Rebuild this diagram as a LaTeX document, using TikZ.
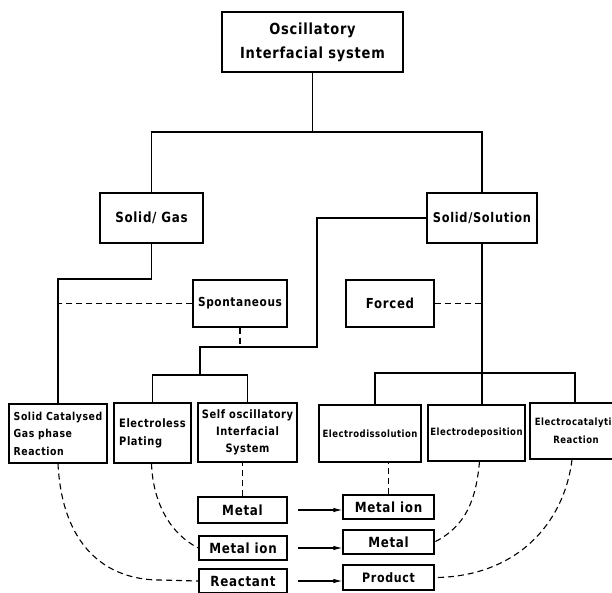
\documentclass[tikz,border=0pt]{standalone}
\usepackage{fontspec}
\setmainfont{DejaVu Sans}[LetterSpace=5,FakeStretch=0.85]
\usetikzlibrary{arrows.meta}
\begin{document}
\begin{tikzpicture}[x=1pt,y=-1pt,
  bx/.style={draw, line width=1.1pt, inner sep=0pt, align=center},
  fbig/.style={font=\fontsize{15.3}{24}\selectfont\bfseries},
  fmid/.style={font=\fontsize{14}{16}\selectfont\bfseries},
  fsm/.style={font=\fontsize{11}{17.5}\selectfont\bfseries},
  fxs/.style={font=\fontsize{10}{17.5}\selectfont\bfseries},
  ln/.style={line width=1.1pt},
  dsh/.style={line width=1.1pt, dash pattern=on 6pt off 4pt},
  arr/.style={line width=1.1pt, -{Latex[length=9pt,width=4.5pt]}, shorten <=10pt}]
\useasboundingbox (0,0) rectangle (612,592);
% nodes
\node[bx, fbig, minimum width=181pt, minimum height=60pt] (top) at (312.5,42) {Oscillatory\\Interfacial system};
\node[bx, fmid, minimum width=103pt, minimum height=50pt] (sg) at (151.5,218) {Solid/ Gas};
\node[bx, fmid, font=\fontsize{13.4}{16}\selectfont\bfseries, minimum width=110pt, minimum height=50pt] (ss) at (482,218) {Solid/Solution};
\node[bx, fmid, font=\fontsize{12.4}{16}\selectfont\bfseries, minimum width=94pt, minimum height=47pt] (sp) at (240,303.5) {Spontaneous};
\node[bx, fmid, font=\fontsize{13.8}{16}\selectfont\bfseries, minimum width=88pt, minimum height=47pt] (fo) at (390,303.5) {Forced};
\node[bx, fsm, align=left, minimum width=98pt, minimum height=59pt] (sc) at (58,433.5) {Solid Catalysed\\Gas phase\\Reaction};
\node[bx, fsm, font=\fontsize{11.6}{18}\selectfont\bfseries, align=left, minimum width=77pt, minimum height=60pt] (el) at (152.5,433) {Electroless\\Plating};
\node[bx, fsm, font=\fontsize{11.6}{17}\selectfont\bfseries, minimum width=99pt, minimum height=59pt] (so) at (247.5,432.5) {Self oscillatory\\Interfacial\\System};
\node[bx, fxs, minimum width=102pt, minimum height=57pt] (ed) at (370,433.5) {Electrodissolution};
\node[bx, fxs, minimum width=97pt, minimum height=56pt] (dp) at (476.5,433) {Electrodeposition};
\node[bx, fxs, minimum width=92pt, minimum height=56pt] (ec) at (576,431) {Electrocatalytic\\Reaction};
\node[bx, fmid, minimum width=89pt, minimum height=26pt] (ml) at (242.5,510) {Metal};
\node[bx, fmid, minimum width=88pt, minimum height=24pt] (mil) at (243,548) {Metal ion};
\node[bx, fmid, minimum width=88pt, minimum height=24pt] (rc) at (243,581) {Reactant};
\node[bx, fmid, minimum width=91pt, minimum height=24pt] (mir) at (388.5,507) {Metal ion};
\node[bx, fmid, minimum width=91pt, minimum height=24pt] (mr) at (388.5,542) {Metal};
\node[bx, fmid, font=\fontsize{13}{16}\selectfont\bfseries, minimum width=91pt, minimum height=25pt] (pr) at (388.5,577.5) {Product};
% junctions
\coordinate (j1) at (312.5,132);
\coordinate (j2) at (100,279);
\coordinate (j3) at (317,347);
\coordinate (b1) at (200,375);
\coordinate (b2) at (482,373);
% tree lines
\draw[ln] (top) -- (j1);
\draw[ln] (sg.north) |- (j1) -| (ss.north);
\draw[ln] (sg.south) |- (j2) -| (sc.north);
\draw[ln] (ss.west) -| (j3) -| (b1);
\draw[ln] (el.north) |- (b1) -| (so.north);
\draw[ln] (ss.south) -- (b2);
\draw[ln] ([xshift=5pt]ed.north) |- (b2) -| ([xshift=-1pt]ec.north);
\draw[ln] (b2) -- (b2 |- dp.north);
% dashed links
\draw[dsh] (sp.west) -- (sp.west -| sc.north);
\draw[dsh] (sp.south) -- (sp.south |- j3);
\draw[dsh] (fo.east) -- (fo.east -| ss.south);
\draw[dsh] (ml.north) -- (ml.north |- so.south);
\draw[dsh] (mir.north) -- (mir.north |- ed.south);
\draw[dsh] ([xshift=3pt]dp.south) .. controls (476,500) and (466,526) .. (mr.east);
\draw[dsh] ([xshift=-4pt]ec.south) .. controls (564,525) and (515,577) .. (pr.east);
\draw[dsh] ([xshift=-1pt]el.south) .. controls (153,505) and (172,535) .. (mil.west);
\draw[dsh] (sc.south) .. controls (62,545) and (105,580) .. (160,580) -- (rc.west);
% arrows
\draw[arr] (ml.east) -- (ml.east -| mir.west);
\draw[arr] (mil.east) -- (mil.east -| mr.west);
\draw[arr] (rc.east) -- (rc.east -| pr.west);
\end{tikzpicture}
\end{document}
